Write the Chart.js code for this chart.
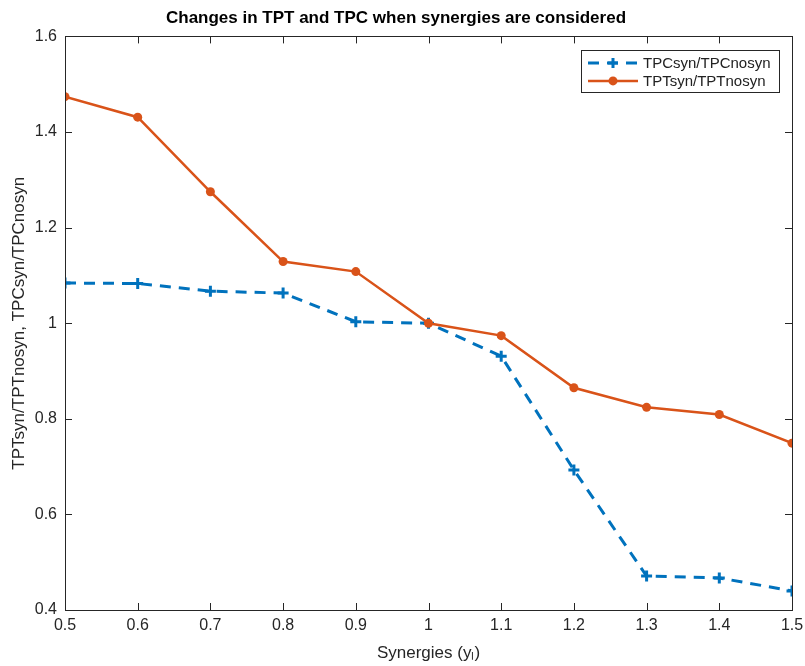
<!DOCTYPE html>
<html>
<head>
<meta charset="utf-8">
<script src="https://cdn.jsdelivr.net/npm/chart.js@4.4.1/dist/chart.umd.min.js"></script>
<style>
  html, body { margin: 0; padding: 0; background: #fff; }
  #wrap { width: 805px; height: 666px; }
</style>
</head>
<body>
<div id="wrap"><canvas id="chart" width="805" height="666"></canvas></div>
<script>
// ---------------- DATA ----------------
const synergies = [0.5, 0.6, 0.7, 0.8, 0.9, 1.0, 1.1, 1.2, 1.3, 1.4, 1.5];
const tpcRatio = [1.084, 1.083, 1.067, 1.063, 1.003, 1.0, 0.931, 0.693, 0.471, 0.467, 0.440];
const tptRatio = [1.474, 1.431, 1.275, 1.129, 1.108, 1.0, 0.974, 0.865, 0.824, 0.809, 0.749];
const seriesLabels = ["TPCsyn/TPCnosyn", "TPTsyn/TPTnosyn"];
const titleText = "Changes in TPT and TPC when synergies are considered";
const xTitle = "Synergies (yₗ)";
const yTitle = "TPTsyn/TPTnosyn, TPCsyn/TPCnosyn";

const BLUE = "#0072BD";
const ORANGE = "#D95319";
const AXIS = "#262626";
const FONT = "'Liberation Sans', Arial, sans-serif";

function pts(ys) {
    return synergies.map((x, i) => ({ x: x, y: ys[i] }));
}

function fmt(v) {
    return String(Number(v.toFixed(1)));
}

// ---------------- PLUGINS ----------------
// MATLAB style box with inward ticks on all four sides
const boxPlugin = {
    id: "box",
    afterDatasetsDraw(chart) {
        const ctx = chart.ctx;
        const a = chart.chartArea;
        const xs = chart.scales.x;
        const ys = chart.scales.y;
        const len = 7;
        ctx.save();
        ctx.strokeStyle = AXIS;
        ctx.lineWidth = 1;
        ctx.beginPath();
        xs.ticks.forEach(t => {
            const px = Math.round(xs.getPixelForValue(t.value)) + 0.5;
            ctx.moveTo(px, a.bottom); ctx.lineTo(px, a.bottom - len);
            ctx.moveTo(px, a.top); ctx.lineTo(px, a.top + len);
        });
        ys.ticks.forEach(t => {
            const py = Math.round(ys.getPixelForValue(t.value)) + 0.5;
            ctx.moveTo(a.left, py); ctx.lineTo(a.left + len, py);
            ctx.moveTo(a.right, py); ctx.lineTo(a.right - len, py);
        });
        ctx.stroke();
        ctx.strokeRect(Math.round(a.left) + 0.5, Math.round(a.top) + 0.5,
            Math.round(a.right - a.left), Math.round(a.bottom - a.top));
        ctx.restore();
    }
};

// legend box inside the plot, top right
const legendPlugin = {
    id: "boxLegend",
    afterDraw(chart) {
        const ctx = chart.ctx;
        const a = chart.chartArea;
        const w = 198, h = 42;
        const x0 = a.right - 13 - w;
        const y0 = a.top + 14;
        ctx.save();
        ctx.fillStyle = "#fff";
        ctx.fillRect(x0, y0, w, h);
        ctx.strokeStyle = "#262626";
        ctx.lineWidth = 1;
        ctx.strokeRect(Math.round(x0) + 0.5, Math.round(y0) + 0.5, w, h);
        ctx.font = "15px " + FONT;
        ctx.textBaseline = "middle";
        chart.data.datasets.forEach((ds, i) => {
            const cy = y0 + 12.5 + i * 18;
            const lx1 = x0 + 7, lx2 = x0 + 57, mx = (lx1 + lx2) / 2;
            ctx.strokeStyle = ds.borderColor;
            ctx.lineWidth = ds.borderWidth;
            ctx.setLineDash(ds.borderDash || []);
            ctx.beginPath();
            ctx.moveTo(lx1, cy); ctx.lineTo(lx2, cy);
            ctx.stroke();
            ctx.setLineDash([]);
            if (ds.pointStyle === "cross") {
                ctx.lineWidth = ds.pointBorderWidth;
                ctx.beginPath();
                ctx.moveTo(mx - 5, cy); ctx.lineTo(mx + 5, cy);
                ctx.moveTo(mx, cy - 5); ctx.lineTo(mx, cy + 5);
                ctx.stroke();
            } else {
                ctx.fillStyle = ds.pointBackgroundColor;
                ctx.beginPath();
                ctx.arc(mx, cy, ds.pointRadius, 0, Math.PI * 2);
                ctx.fill();
            }
            ctx.fillStyle = "#222";
            ctx.fillText(ds.label, x0 + 62, cy + 1);
        });
        ctx.restore();
    }
};

// ---------------- CHART ----------------
const ctx = document.getElementById("chart").getContext("2d");

new Chart(ctx, {
    type: "line",
    data: {
        datasets: [{
            label: seriesLabels[0],
            data: pts(tpcRatio),
            borderColor: BLUE,
            borderWidth: 3,
            borderDash: [11, 8],
            pointStyle: "cross",
            pointRadius: 5.5,
            pointBorderWidth: 3,
            pointBorderColor: BLUE,
            pointBackgroundColor: BLUE,
            tension: 0,
            order: 1
        }, {
            label: seriesLabels[1],
            data: pts(tptRatio),
            borderColor: ORANGE,
            borderWidth: 2.5,
            pointStyle: "circle",
            pointRadius: 4.5,
            pointBorderWidth: 0,
            pointBackgroundColor: ORANGE,
            pointBorderColor: ORANGE,
            tension: 0,
            order: 0
        }]
    },
    options: {
        responsive: false,
        animation: false,
        events: [],
        layout: { padding: { left: 0, right: 13, top: 0, bottom: 0 } },
        plugins: {
            legend: { display: false },
            tooltip: { enabled: false },
            title: {
                display: true,
                text: titleText,
                color: "#000",
                font: { family: FONT, size: 17, weight: "bold" },
                padding: { top: 8, bottom: 8 }
            }
        },
        scales: {
            x: {
                type: "linear",
                min: 0.5,
                max: 1.5,
                grid: { display: false, drawTicks: false },
                border: { display: false },
                ticks: {
                    stepSize: 0.1,
                    color: AXIS,
                    padding: 6,
                    font: { family: FONT, size: 16 },
                    callback: v => fmt(v)
                },
                title: {
                    display: true,
                    text: xTitle,
                    color: AXIS,
                    font: { family: FONT, size: 17 },
                    padding: { top: 5, bottom: 2 }
                },
                afterFit: s => { s.height = 56; s.paddingRight = 0; }
            },
            y: {
                min: 0.4,
                max: 1.6,
                grid: { display: false, drawTicks: false },
                border: { display: false },
                ticks: {
                    stepSize: 0.2,
                    color: AXIS,
                    padding: 8,
                    font: { family: FONT, size: 16 },
                    callback: v => fmt(v)
                },
                title: {
                    display: true,
                    text: yTitle,
                    color: AXIS,
                    font: { family: FONT, size: 17 },
                    padding: { top: 9, bottom: 0 }
                },
                afterFit: s => { s.width = 65; }
            }
        }
    },
    plugins: [boxPlugin, legendPlugin]
});
</script>
</body>
</html>
